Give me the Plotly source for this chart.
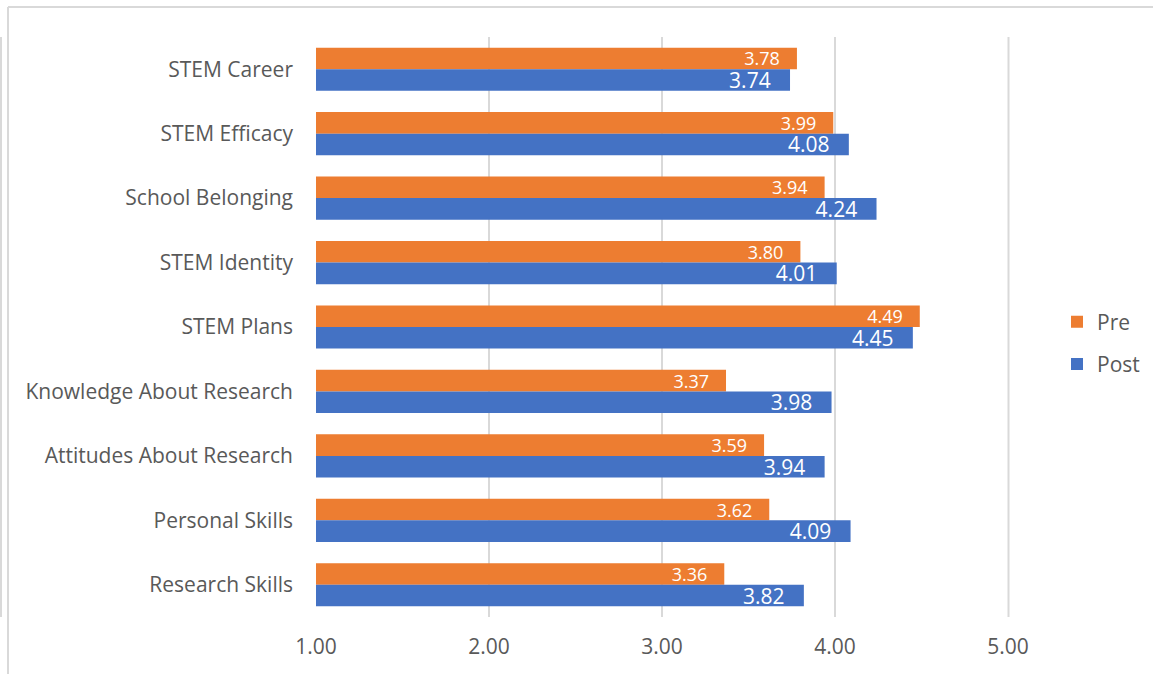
import plotly.graph_objects as go

categories = ["STEM Career", "STEM Efficacy", "School Belonging", "STEM Identity",
              "STEM Plans", "Knowledge About Research", "Attitudes About Research",
              "Personal Skills", "Research Skills"]
pre_values = [3.78, 3.99, 3.94, 3.80, 4.49, 3.37, 3.59, 3.62, 3.36]
post_values = [3.74, 4.08, 4.24, 4.01, 4.45, 3.98, 3.94, 4.09, 3.82]
x_ticks = [1, 2, 3, 4, 5]
x_tick_labels = ["1.00", "2.00", "3.00", "4.00", "5.00"]

FONT = "Open Sans, sans-serif"
GRID = "#d9d9d9"

fig = go.Figure()
fig.add_trace(go.Bar(
    name="Pre", y=categories, x=pre_values, orientation="h",
    marker=dict(color="#ED7D31", line=dict(width=0)),
    texttemplate="%{x:.2f}\u00a0\u00a0\u00a0", textposition="inside",
    insidetextanchor="end", constraintext="none",
    textfont=dict(family=FONT, size=18, color="white"),
    legendgroup="pre", hoverinfo="skip",
))
fig.add_trace(go.Bar(
    name="Post", y=categories, x=post_values, orientation="h",
    marker=dict(color="#4472C4", line=dict(width=0)),
    texttemplate="%{x:.2f}\u00a0\u00a0\u00a0", textposition="inside",
    insidetextanchor="end", constraintext="none",
    textfont=dict(family=FONT, size=21, color="white"),
    legendgroup="post", hoverinfo="skip",
))

L, R, T, B = 316, 1008, 37, 617
W, H = 1153, 674
pw, ph = R - L, B - T

def px(x):
    return (x - L) / pw

def py(y):
    return (B - y) / ph

fig.update_layout(
    width=W, height=H,
    margin=dict(l=L, r=W - R, t=T, b=H - B, pad=0, autoexpand=False),
    paper_bgcolor="white", plot_bgcolor="white",
    barmode="group", bargap=0.33, bargroupgap=0,
    font=dict(family=FONT, color="#595959", size=21),
    legend=dict(xref="container", yref="container",
                x=1057 / W, xanchor="left", y=1 - 343 / H, yanchor="middle",
                traceorder="grouped", tracegroupgap=12,
                font=dict(size=21, color="#595959"),
                itemwidth=30, bgcolor="rgba(0,0,0,0)"),
    xaxis=dict(range=[1, 5], tickvals=x_ticks, ticktext=x_tick_labels,
               showgrid=True, gridcolor=GRID, gridwidth=2, zeroline=False,
               showline=False, ticks="", ticklabelstandoff=15,
               tickfont=dict(size=21, color="#595959")),
    yaxis=dict(autorange="reversed", showgrid=False, zeroline=False,
               showline=False, ticks="", ticklabelstandoff=22,
               tickfont=dict(size=21, color="#595959")),
    shapes=[
        dict(type="line", xref="paper", yref="paper", x0=px(1), x1=px(1),
             y0=0, y1=1, line=dict(color=GRID, width=2), layer="below"),
        dict(type="line", xref="paper", yref="paper", x0=px(1008.5), x1=px(1008.5),
             y0=0, y1=1, line=dict(color=GRID, width=2), layer="below"),
        dict(type="line", xref="paper", yref="paper", x0=px(8), x1=px(1160),
             y0=py(7), y1=py(7), line=dict(color=GRID, width=2)),
        dict(type="line", xref="paper", yref="paper", x0=px(8), x1=px(8),
             y0=py(7), y1=py(680), line=dict(color=GRID, width=2)),
    ],
)

fig.write_html("out.html")
